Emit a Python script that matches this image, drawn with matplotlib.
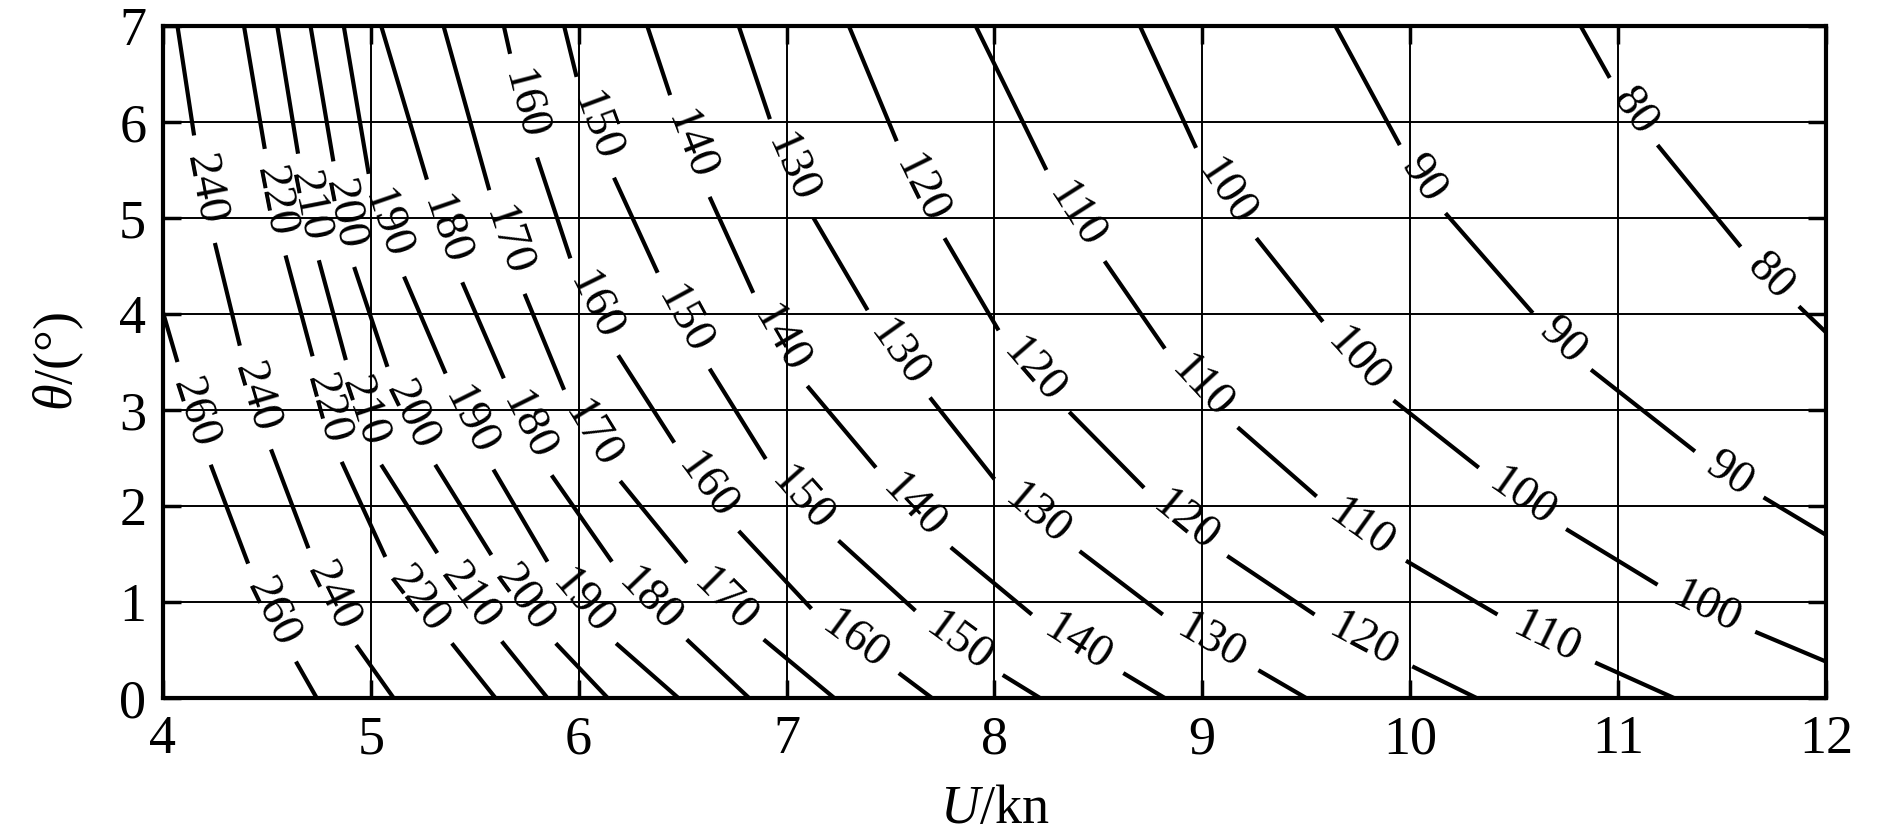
import numpy as np
import matplotlib
matplotlib.use("Agg")
import matplotlib.pyplot as plt

plt.rcParams['font.family'] = ['Liberation Serif', 'DejaVu Serif']
plt.rcParams['mathtext.fontset'] = 'custom'
plt.rcParams['mathtext.rm'] = 'Liberation Serif'
plt.rcParams['mathtext.it'] = 'Liberation Serif:italic'

# ---- data: contour lines, as (U [kn], theta [deg]) segments;
# the gaps between consecutive segments of a level hold that level's label
levels = [80, 90, 100, 110, 120, 130, 140, 150, 160, 170, 180, 190, 200, 210, 220, 240, 260]

contour_80 = [[(10.82, 7.0), (10.96, 6.46)], [(11.19, 5.76), (11.59, 4.70)], [(11.87, 4.08), (12.0, 3.81)]]
contour_90 = [[(9.64, 7.0), (9.95, 5.76)], [(10.17, 5.05), (10.59, 4.01)],
              [(10.87, 3.42), (11.37, 2.57)], [(11.70, 2.09), (12.0, 1.70)]]
contour_100 = [[(8.70, 7.0), (8.97, 5.73)], [(9.26, 4.79), (9.58, 3.92)], [(9.92, 3.10), (10.33, 2.40)],
               [(10.75, 1.76), (11.19, 1.18)], [(11.66, 0.69), (12.0, 0.38)]]
contour_110 = [[(7.91, 7.0), (8.25, 5.50)], [(8.53, 4.55), (8.82, 3.64)], [(9.17, 2.82), (9.55, 2.10)],
               [(9.98, 1.43), (10.42, 0.87)], [(10.89, 0.37), (11.27, 0.0)]]
contour_120 = [[(7.30, 7.0), (7.53, 5.80)], [(7.76, 4.79), (8.02, 3.83)], [(8.36, 2.98), (8.72, 2.19)],
               [(9.12, 1.48), (9.54, 0.87)], [(10.01, 0.33), (10.32, 0.0)]]
contour_130 = [[(6.77, 7.0), (6.92, 6.03)], [(7.13, 5.00), (7.39, 4.04)], [(7.69, 3.13), (8.00, 2.28)],
               [(8.41, 1.53), (8.81, 0.87)], [(9.27, 0.29), (9.50, 0.0)]]
contour_140 = [[(6.33, 7.0), (6.44, 6.28)], [(6.63, 5.22), (6.84, 4.22)], [(7.10, 3.25), (7.43, 2.40)],
               [(7.79, 1.57), (8.18, 0.87)], [(8.62, 0.26), (8.82, 0.0)]]
contour_150 = [[(5.93, 7.0), (5.99, 6.47)], [(6.17, 5.42), (6.38, 4.43)], [(6.63, 3.43), (6.90, 2.49)],
               [(7.25, 1.64), (7.62, 0.91)], [(8.04, 0.24), (8.22, 0.0)]]
contour_160 = [[(5.64, 7.0), (5.67, 6.71)], [(5.80, 5.63), (5.96, 4.58)], [(6.19, 3.57), (6.46, 2.66)],
               [(6.77, 1.74), (7.12, 0.93)], [(7.54, 0.26), (7.70, 0.0)]]
contour_170 = [[(5.35, 7.0), (5.57, 5.29)], [(5.74, 4.21), (5.93, 3.21)], [(6.20, 2.26), (6.52, 1.41)],
               [(6.89, 0.61), (7.23, 0.0)]]
contour_180 = [[(5.05, 7.0), (5.27, 5.40)], [(5.44, 4.33), (5.64, 3.33)], [(5.87, 2.32), (6.16, 1.42)],
               [(6.52, 0.61), (6.82, 0.0)]]
contour_190 = [[(4.87, 7.0), (4.99, 5.46)], [(5.16, 4.39), (5.36, 3.38)], [(5.59, 2.38), (5.85, 1.42)],
               [(6.18, 0.57), (6.48, 0.0)]]
contour_200 = [[(4.71, 7.0), (4.82, 5.59)], [(4.92, 4.49), (5.08, 3.45)], [(5.31, 2.43), (5.58, 1.49)],
               [(5.89, 0.57), (6.14, 0.0)]]
contour_210 = [[(4.55, 7.0), (4.65, 5.67)], [(4.75, 4.56), (4.88, 3.52)], [(5.05, 2.43), (5.32, 1.51)],
               [(5.63, 0.59), (5.85, 0.0)]]
contour_220 = [[(4.39, 7.0), (4.49, 5.72)], [(4.59, 4.61), (4.72, 3.56)], [(4.86, 2.46), (5.07, 1.47)],
               [(5.39, 0.57), (5.60, 0.0)]]
contour_240 = [[(4.07, 7.0), (4.15, 5.86)], [(4.25, 4.74), (4.37, 3.67)], [(4.52, 2.59), (4.70, 1.56)],
               [(4.93, 0.55), (5.11, 0.0)]]
contour_260 = [[(4.0, 4.02), (4.07, 3.50)], [(4.23, 2.43), (4.41, 1.40)], [(4.64, 0.38), (4.74, 0.0)]]

contours = [contour_80, contour_90, contour_100, contour_110, contour_120, contour_130, contour_140,
            contour_150, contour_160, contour_170, contour_180, contour_190, contour_200, contour_210,
            contour_220, contour_240, contour_260]

x_ticks = [4, 5, 6, 7, 8, 9, 10, 11, 12]
y_ticks = [0, 1, 2, 3, 4, 5, 6, 7]

# ---- figure
fig = plt.figure(figsize=(18.9, 8.39), dpi=100)
ax = fig.add_axes([0.0862, 0.168, 0.8799, 0.801])
ax.set_xlim(4, 12)
ax.set_ylim(0, 7)

for level, segs in zip(levels, contours):
    for seg in segs:
        u = [p[0] for p in seg]
        t = [p[1] for p in seg]
        ax.plot(u, t, color='black', lw=3.0, solid_capstyle='butt', zorder=2, clip_on=True)
    for a, b in zip(segs[:-1], segs[1:]):
        p1, p2 = a[-1], b[0]
        mu, mt = (p1[0] + p2[0]) / 2, (p1[1] + p2[1]) / 2
        ang = np.degrees(np.arctan2(p2[1] - p1[1], p2[0] - p1[0]))
        ax.text(mu, mt, str(level), fontsize=34, ha='center', va='center',
                rotation=ang, rotation_mode='anchor', transform_rotates_text=True,
                zorder=3)

ax.set_xticks(x_ticks)
ax.set_yticks(y_ticks)
ax.set_xticklabels([str(v) for v in x_ticks])
ax.set_yticklabels([str(v) for v in y_ticks])
ax.tick_params(direction='in', length=13, width=2.5, labelsize=39, top=True, right=True,
               pad=12)
ax.grid(True, color='black', lw=1.4)
ax.set_axisbelow(False)
for sp in ax.spines.values():
    sp.set_linewidth(3)

ax.set_xlabel(r'$U$/kn', fontsize=39, labelpad=14)
ax.set_ylabel(r'$\theta$/(°)', fontsize=39, labelpad=24)

fig.savefig('out.png', dpi=100)
